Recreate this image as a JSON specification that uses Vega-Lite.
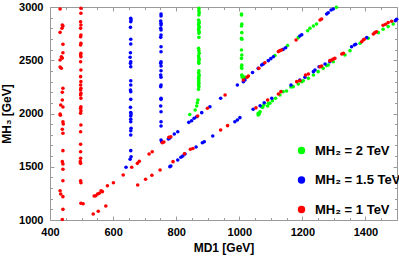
{
"$schema": "https://vega.github.io/schema/vega-lite/v6.json",
"autosize": "none",
"width": 347, "height": 213,
"padding": {"left": 50, "top": 7, "right": 2, "bottom": 37},
"background": "white",
"config": {"font": "Liberation Sans", "view": {"stroke": "#9a9a9a", "strokeWidth": 1},
  "axis": {"domain": false, "grid": false, "tickColor": "#9a9a9a", "labelFont": "Liberation Sans", "labelFontWeight": "bold", "labelFontSize": 11, "labelColor": "#000", "labelFlush": false, "format": "d", "titleFont": "Liberation Sans", "titleFontWeight": "bold", "titleFontSize": 12, "titleColor": "#000"}},
"datasets": {
"g": [
{"series":"2 TeV","MD1":872,"MH3":2988},{"series":"2 TeV","MD1":872,"MH3":2965},{"series":"2 TeV","MD1":873,"MH3":2946},{"series":"2 TeV","MD1":872,"MH3":2925},{"series":"2 TeV","MD1":871,"MH3":2878},{"series":"2 TeV","MD1":873,"MH3":2862},{"series":"2 TeV","MD1":872,"MH3":2847},{"series":"2 TeV","MD1":871,"MH3":2831},{"series":"2 TeV","MD1":873,"MH3":2815},{"series":"2 TeV","MD1":872,"MH3":2800},{"series":"2 TeV","MD1":871,"MH3":2784},{"series":"2 TeV","MD1":873,"MH3":2768},{"series":"2 TeV","MD1":872,"MH3":2753},{"series":"2 TeV","MD1":872,"MH3":2715},{"series":"2 TeV","MD1":871,"MH3":2612},{"series":"2 TeV","MD1":872,"MH3":2590},{"series":"2 TeV","MD1":873,"MH3":2565},{"series":"2 TeV","MD1":871,"MH3":2540},{"series":"2 TeV","MD1":872,"MH3":2518},{"series":"2 TeV","MD1":873,"MH3":2502},{"series":"2 TeV","MD1":871,"MH3":2486},{"series":"2 TeV","MD1":872,"MH3":2471},{"series":"2 TeV","MD1":872,"MH3":2402},{"series":"2 TeV","MD1":871,"MH3":2383},{"series":"2 TeV","MD1":873,"MH3":2362},{"series":"2 TeV","MD1":872,"MH3":2346},{"series":"2 TeV","MD1":871,"MH3":2330},{"series":"2 TeV","MD1":872,"MH3":2315},{"series":"2 TeV","MD1":871,"MH3":2299},{"series":"2 TeV","MD1":872,"MH3":2283},{"series":"2 TeV","MD1":871,"MH3":2268},{"series":"2 TeV","MD1":872,"MH3":2252},{"series":"2 TeV","MD1":871,"MH3":2227},{"series":"2 TeV","MD1":869,"MH3":2127},{"series":"2 TeV","MD1":867,"MH3":2101},{"series":"2 TeV","MD1":865,"MH3":2070},{"series":"2 TeV","MD1":860,"MH3":2033},{"series":"2 TeV","MD1":843,"MH3":1990},
{"series":"2 TeV","MD1":1007,"MH3":2934},{"series":"2 TeV","MD1":1007,"MH3":2925},{"series":"2 TeV","MD1":1008,"MH3":2840},{"series":"2 TeV","MD1":1007,"MH3":2822},{"series":"2 TeV","MD1":1008,"MH3":2759},{"series":"2 TeV","MD1":1007,"MH3":2707},{"series":"2 TeV","MD1":1008,"MH3":2697},{"series":"2 TeV","MD1":1007,"MH3":2596},{"series":"2 TeV","MD1":1008,"MH3":2549},{"series":"2 TeV","MD1":1007,"MH3":2518},{"series":"2 TeV","MD1":1008,"MH3":2455},{"series":"2 TeV","MD1":1007,"MH3":2439},{"series":"2 TeV","MD1":1008,"MH3":2424},{"series":"2 TeV","MD1":1008,"MH3":2362},{"series":"2 TeV","MD1":1009,"MH3":2352},{"series":"2 TeV","MD1":1010,"MH3":2340},{"series":"2 TeV","MD1":1014,"MH3":2330},
{"series":"2 TeV","MD1":1018,"MH3":2342},{"series":"2 TeV","MD1":1113,"MH3":2545},{"series":"2 TeV","MD1":1153,"MH3":2639},{"series":"2 TeV","MD1":1187,"MH3":2712},{"series":"2 TeV","MD1":1217,"MH3":2777},{"series":"2 TeV","MD1":1224,"MH3":2800},{"series":"2 TeV","MD1":1235,"MH3":2822},{"series":"2 TeV","MD1":1245,"MH3":2840},{"series":"2 TeV","MD1":1308,"MH3":2997},
{"series":"2 TeV","MD1":1060,"MH3":1986},{"series":"2 TeV","MD1":1063,"MH3":1995},{"series":"2 TeV","MD1":1066,"MH3":2017},{"series":"2 TeV","MD1":1060,"MH3":2002},{"series":"2 TeV","MD1":1071,"MH3":2064},{"series":"2 TeV","MD1":1074,"MH3":2058},{"series":"2 TeV","MD1":1078,"MH3":2080},{"series":"2 TeV","MD1":1090,"MH3":2070},{"series":"2 TeV","MD1":1092,"MH3":2096},{"series":"2 TeV","MD1":1097,"MH3":2096},{"series":"2 TeV","MD1":1105,"MH3":2120},{"series":"2 TeV","MD1":1115,"MH3":2143},{"series":"2 TeV","MD1":1129,"MH3":2174},{"series":"2 TeV","MD1":1139,"MH3":2205},{"series":"2 TeV","MD1":1150,"MH3":2211},{"series":"2 TeV","MD1":1164,"MH3":2250},{"series":"2 TeV","MD1":1171,"MH3":2252},{"series":"2 TeV","MD1":1187,"MH3":2277},{"series":"2 TeV","MD1":1198,"MH3":2299},{"series":"2 TeV","MD1":1203,"MH3":2308},{"series":"2 TeV","MD1":1219,"MH3":2330},{"series":"2 TeV","MD1":1235,"MH3":2362},{"series":"2 TeV","MD1":1250,"MH3":2393},{"series":"2 TeV","MD1":1266,"MH3":2424},{"series":"2 TeV","MD1":1277,"MH3":2450},{"series":"2 TeV","MD1":1282,"MH3":2455},{"series":"2 TeV","MD1":1298,"MH3":2486},{"series":"2 TeV","MD1":1335,"MH3":2549},{"series":"2 TeV","MD1":1351,"MH3":2590},{"series":"2 TeV","MD1":1383,"MH3":2659},{"series":"2 TeV","MD1":1409,"MH3":2707},{"series":"2 TeV","MD1":1441,"MH3":2759},{"series":"2 TeV","MD1":1456,"MH3":2791},{"series":"2 TeV","MD1":1472,"MH3":2816},{"series":"2 TeV","MD1":1488,"MH3":2840}
],
"b": [
{"series":"1.5 TeV","MD1":656,"MH3":2894},{"series":"1.5 TeV","MD1":657,"MH3":2878},{"series":"1.5 TeV","MD1":656,"MH3":2862},{"series":"1.5 TeV","MD1":655,"MH3":2809},{"series":"1.5 TeV","MD1":656,"MH3":2697},{"series":"1.5 TeV","MD1":656,"MH3":2653},{"series":"1.5 TeV","MD1":655,"MH3":2571},{"series":"1.5 TeV","MD1":654,"MH3":2528},{"series":"1.5 TeV","MD1":656,"MH3":2486},{"series":"1.5 TeV","MD1":655,"MH3":2471},{"series":"1.5 TeV","MD1":656,"MH3":2439},{"series":"1.5 TeV","MD1":656,"MH3":2308},{"series":"1.5 TeV","MD1":656,"MH3":2268},{"series":"1.5 TeV","MD1":655,"MH3":2221},{"series":"1.5 TeV","MD1":656,"MH3":2205},{"series":"1.5 TeV","MD1":656,"MH3":2133},{"series":"1.5 TeV","MD1":655,"MH3":2058},{"series":"1.5 TeV","MD1":656,"MH3":2010},{"series":"1.5 TeV","MD1":657,"MH3":1995},{"series":"1.5 TeV","MD1":656,"MH3":1977},{"series":"1.5 TeV","MD1":656,"MH3":1946},{"series":"1.5 TeV","MD1":656,"MH3":1923},{"series":"1.5 TeV","MD1":657,"MH3":1861},{"series":"1.5 TeV","MD1":656,"MH3":1838},{"series":"1.5 TeV","MD1":656,"MH3":1798},{"series":"1.5 TeV","MD1":656,"MH3":1651},{"series":"1.5 TeV","MD1":657,"MH3":1594},{"series":"1.5 TeV","MD1":654,"MH3":1570},{"series":"1.5 TeV","MD1":641,"MH3":1495},
{"series":"1.5 TeV","MD1":752,"MH3":2934},{"series":"1.5 TeV","MD1":752,"MH3":2915},{"series":"1.5 TeV","MD1":751,"MH3":2869},{"series":"1.5 TeV","MD1":752,"MH3":2847},{"series":"1.5 TeV","MD1":752,"MH3":2831},{"series":"1.5 TeV","MD1":751,"MH3":2800},{"series":"1.5 TeV","MD1":752,"MH3":2784},{"series":"1.5 TeV","MD1":752,"MH3":2737},{"series":"1.5 TeV","MD1":751,"MH3":2715},{"series":"1.5 TeV","MD1":752,"MH3":2627},{"series":"1.5 TeV","MD1":752,"MH3":2580},{"series":"1.5 TeV","MD1":752,"MH3":2486},{"series":"1.5 TeV","MD1":751,"MH3":2471},{"series":"1.5 TeV","MD1":752,"MH3":2446},{"series":"1.5 TeV","MD1":752,"MH3":2402},{"series":"1.5 TeV","MD1":751,"MH3":2362},{"series":"1.5 TeV","MD1":752,"MH3":2340},{"series":"1.5 TeV","MD1":752,"MH3":2268},{"series":"1.5 TeV","MD1":751,"MH3":2252},{"series":"1.5 TeV","MD1":752,"MH3":2143},{"series":"1.5 TeV","MD1":752,"MH3":2133},{"series":"1.5 TeV","MD1":751,"MH3":2070},{"series":"1.5 TeV","MD1":752,"MH3":2017},{"series":"1.5 TeV","MD1":752,"MH3":1923},{"series":"1.5 TeV","MD1":752,"MH3":1883},{"series":"1.5 TeV","MD1":752,"MH3":1751},{"series":"1.5 TeV","MD1":754,"MH3":1735},
{"series":"1.5 TeV","MD1":775,"MH3":1761},{"series":"1.5 TeV","MD1":780,"MH3":1770},{"series":"1.5 TeV","MD1":794,"MH3":1808},{"series":"1.5 TeV","MD1":805,"MH3":1829},{"series":"1.5 TeV","MD1":840,"MH3":1917},{"series":"1.5 TeV","MD1":849,"MH3":1932},{"series":"1.5 TeV","MD1":857,"MH3":1955},{"series":"1.5 TeV","MD1":865,"MH3":1970},{"series":"1.5 TeV","MD1":881,"MH3":2008},{"series":"1.5 TeV","MD1":907,"MH3":2064},{"series":"1.5 TeV","MD1":941,"MH3":2143},{"series":"1.5 TeV","MD1":994,"MH3":2268},{"series":"1.5 TeV","MD1":1013,"MH3":2299},{"series":"1.5 TeV","MD1":1018,"MH3":2315},{"series":"1.5 TeV","MD1":1042,"MH3":2385},{"series":"1.5 TeV","MD1":1060,"MH3":2424},{"series":"1.5 TeV","MD1":1071,"MH3":2455},{"series":"1.5 TeV","MD1":1076,"MH3":2465},{"series":"1.5 TeV","MD1":1092,"MH3":2496},{"series":"1.5 TeV","MD1":1100,"MH3":2515},{"series":"1.5 TeV","MD1":1108,"MH3":2533},{"series":"1.5 TeV","MD1":1139,"MH3":2602},{"series":"1.5 TeV","MD1":1147,"MH3":2618},{"series":"1.5 TeV","MD1":1192,"MH3":2728},{"series":"1.5 TeV","MD1":1198,"MH3":2740},{"series":"1.5 TeV","MD1":1277,"MH3":2934},{"series":"1.5 TeV","MD1":1282,"MH3":2946},{"series":"1.5 TeV","MD1":1291,"MH3":2972},{"series":"1.5 TeV","MD1":1298,"MH3":2981},
{"series":"1.5 TeV","MD1":780,"MH3":1501},{"series":"1.5 TeV","MD1":783,"MH3":1507},{"series":"1.5 TeV","MD1":805,"MH3":1563},{"series":"1.5 TeV","MD1":815,"MH3":1589},{"series":"1.5 TeV","MD1":821,"MH3":1601},{"series":"1.5 TeV","MD1":828,"MH3":1620},{"series":"1.5 TeV","MD1":863,"MH3":1685},{"series":"1.5 TeV","MD1":883,"MH3":1726},{"series":"1.5 TeV","MD1":889,"MH3":1735},{"series":"1.5 TeV","MD1":916,"MH3":1789},{"series":"1.5 TeV","MD1":986,"MH3":1923},{"series":"1.5 TeV","MD1":994,"MH3":1939},{"series":"1.5 TeV","MD1":1002,"MH3":1961},{"series":"1.5 TeV","MD1":1044,"MH3":2040},{"series":"1.5 TeV","MD1":1066,"MH3":2073},{"series":"1.5 TeV","MD1":1079,"MH3":2101},{"series":"1.5 TeV","MD1":1103,"MH3":2143},{"series":"1.5 TeV","MD1":1164,"MH3":2268},{"series":"1.5 TeV","MD1":1192,"MH3":2315},{"series":"1.5 TeV","MD1":1208,"MH3":2340},{"series":"1.5 TeV","MD1":1235,"MH3":2393},{"series":"1.5 TeV","MD1":1240,"MH3":2408},{"series":"1.5 TeV","MD1":1253,"MH3":2439},{"series":"1.5 TeV","MD1":1272,"MH3":2465},{"series":"1.5 TeV","MD1":1287,"MH3":2486},{"series":"1.5 TeV","MD1":1356,"MH3":2627},{"series":"1.5 TeV","MD1":1365,"MH3":2643},{"series":"1.5 TeV","MD1":1369,"MH3":2650},{"series":"1.5 TeV","MD1":1404,"MH3":2712},{"series":"1.5 TeV","MD1":1495,"MH3":2872},{"series":"1.5 TeV","MD1":1499,"MH3":2885}
],
"r": [
{"series":"1 TeV","MD1":432,"MH3":2981},{"series":"1 TeV","MD1":439,"MH3":2831},{"series":"1 TeV","MD1":441,"MH3":2822},{"series":"1 TeV","MD1":438,"MH3":2800},{"series":"1 TeV","MD1":432,"MH3":2762},{"series":"1 TeV","MD1":441,"MH3":2650},{"series":"1 TeV","MD1":441,"MH3":2571},{"series":"1 TeV","MD1":436,"MH3":2533},{"series":"1 TeV","MD1":439,"MH3":2520},{"series":"1 TeV","MD1":432,"MH3":2502},{"series":"1 TeV","MD1":432,"MH3":2437},{"series":"1 TeV","MD1":436,"MH3":2425},{"series":"1 TeV","MD1":441,"MH3":2237},{"series":"1 TeV","MD1":439,"MH3":2199},{"series":"1 TeV","MD1":439,"MH3":2127},{"series":"1 TeV","MD1":434,"MH3":2080},{"series":"1 TeV","MD1":441,"MH3":2061},{"series":"1 TeV","MD1":432,"MH3":1995},{"series":"1 TeV","MD1":433,"MH3":1984},{"series":"1 TeV","MD1":441,"MH3":1923},{"series":"1 TeV","MD1":442,"MH3":1901},{"series":"1 TeV","MD1":439,"MH3":1852},{"series":"1 TeV","MD1":441,"MH3":1814},{"series":"1 TeV","MD1":441,"MH3":1651},{"series":"1 TeV","MD1":439,"MH3":1548},{"series":"1 TeV","MD1":441,"MH3":1526},{"series":"1 TeV","MD1":441,"MH3":1476},{"series":"1 TeV","MD1":441,"MH3":1369},{"series":"1 TeV","MD1":432,"MH3":1275},{"series":"1 TeV","MD1":434,"MH3":1244},{"series":"1 TeV","MD1":441,"MH3":1219},{"series":"1 TeV","MD1":441,"MH3":1100},{"series":"1 TeV","MD1":439,"MH3":1005},
{"series":"1 TeV","MD1":498,"MH3":2988},{"series":"1 TeV","MD1":498,"MH3":2941},{"series":"1 TeV","MD1":497,"MH3":2862},{"series":"1 TeV","MD1":498,"MH3":2831},{"series":"1 TeV","MD1":497,"MH3":2800},{"series":"1 TeV","MD1":498,"MH3":2737},{"series":"1 TeV","MD1":497,"MH3":2721},{"series":"1 TeV","MD1":498,"MH3":2659},{"series":"1 TeV","MD1":497,"MH3":2643},{"series":"1 TeV","MD1":498,"MH3":2565},{"series":"1 TeV","MD1":497,"MH3":2549},{"series":"1 TeV","MD1":498,"MH3":2533},{"series":"1 TeV","MD1":497,"MH3":2486},{"series":"1 TeV","MD1":498,"MH3":2408},{"series":"1 TeV","MD1":497,"MH3":2346},{"series":"1 TeV","MD1":498,"MH3":2299},{"series":"1 TeV","MD1":497,"MH3":2268},{"series":"1 TeV","MD1":498,"MH3":2237},{"series":"1 TeV","MD1":497,"MH3":2221},{"series":"1 TeV","MD1":498,"MH3":2190},{"series":"1 TeV","MD1":497,"MH3":2174},{"series":"1 TeV","MD1":498,"MH3":2143},{"series":"1 TeV","MD1":498,"MH3":2064},{"series":"1 TeV","MD1":497,"MH3":2049},{"series":"1 TeV","MD1":498,"MH3":2025},{"series":"1 TeV","MD1":497,"MH3":2002},{"series":"1 TeV","MD1":498,"MH3":1892},{"series":"1 TeV","MD1":497,"MH3":1829},{"series":"1 TeV","MD1":497,"MH3":1711},{"series":"1 TeV","MD1":497,"MH3":1641},{"series":"1 TeV","MD1":497,"MH3":1579},{"series":"1 TeV","MD1":496,"MH3":1548},{"series":"1 TeV","MD1":497,"MH3":1532},{"series":"1 TeV","MD1":497,"MH3":1369},{"series":"1 TeV","MD1":498,"MH3":1350},{"series":"1 TeV","MD1":498,"MH3":1157},{"series":"1 TeV","MD1":505,"MH3":1152},
{"series":"1 TeV","MD1":540,"MH3":1225},{"series":"1 TeV","MD1":545,"MH3":1228},{"series":"1 TeV","MD1":551,"MH3":1244},{"series":"1 TeV","MD1":556,"MH3":1251},{"series":"1 TeV","MD1":562,"MH3":1275},{"series":"1 TeV","MD1":566,"MH3":1266},{"series":"1 TeV","MD1":582,"MH3":1322},{"series":"1 TeV","MD1":601,"MH3":1350},{"series":"1 TeV","MD1":632,"MH3":1423},{"series":"1 TeV","MD1":659,"MH3":1495},{"series":"1 TeV","MD1":677,"MH3":1532},{"series":"1 TeV","MD1":683,"MH3":1551},{"series":"1 TeV","MD1":714,"MH3":1620},{"series":"1 TeV","MD1":724,"MH3":1641},{"series":"1 TeV","MD1":756,"MH3":1726},{"series":"1 TeV","MD1":761,"MH3":1732},{"series":"1 TeV","MD1":777,"MH3":1777},{"series":"1 TeV","MD1":783,"MH3":1782},{"series":"1 TeV","MD1":868,"MH3":1977},{"series":"1 TeV","MD1":899,"MH3":2049},{"series":"1 TeV","MD1":955,"MH3":2174},{"series":"1 TeV","MD1":1013,"MH3":2315},{"series":"1 TeV","MD1":1025,"MH3":2340},{"series":"1 TeV","MD1":1029,"MH3":2352},{"series":"1 TeV","MD1":1062,"MH3":2424},{"series":"1 TeV","MD1":1081,"MH3":2477},{"series":"1 TeV","MD1":1124,"MH3":2581},{"series":"1 TeV","MD1":1129,"MH3":2590},{"series":"1 TeV","MD1":1134,"MH3":2596},{"series":"1 TeV","MD1":1180,"MH3":2690},{"series":"1 TeV","MD1":1256,"MH3":2878},{"series":"1 TeV","MD1":1261,"MH3":2887},
{"series":"1 TeV","MD1":537,"MH3":1056},{"series":"1 TeV","MD1":553,"MH3":1082},{"series":"1 TeV","MD1":577,"MH3":1131},{"series":"1 TeV","MD1":678,"MH3":1329},{"series":"1 TeV","MD1":703,"MH3":1382},{"series":"1 TeV","MD1":723,"MH3":1420},{"series":"1 TeV","MD1":749,"MH3":1469},{"series":"1 TeV","MD1":790,"MH3":1548},{"series":"1 TeV","MD1":826,"MH3":1622},{"series":"1 TeV","MD1":845,"MH3":1664},{"series":"1 TeV","MD1":853,"MH3":1672},{"series":"1 TeV","MD1":941,"MH3":1845},{"series":"1 TeV","MD1":963,"MH3":1886},{"series":"1 TeV","MD1":1053,"MH3":2053},{"series":"1 TeV","MD1":1090,"MH3":2127},{"series":"1 TeV","MD1":1124,"MH3":2183},{"series":"1 TeV","MD1":1132,"MH3":2205},{"series":"1 TeV","MD1":1182,"MH3":2299},{"series":"1 TeV","MD1":1192,"MH3":2308},{"series":"1 TeV","MD1":1210,"MH3":2362},{"series":"1 TeV","MD1":1219,"MH3":2371},{"series":"1 TeV","MD1":1256,"MH3":2439},{"series":"1 TeV","MD1":1261,"MH3":2446},{"series":"1 TeV","MD1":1287,"MH3":2496},{"series":"1 TeV","MD1":1293,"MH3":2502},{"series":"1 TeV","MD1":1298,"MH3":2512},{"series":"1 TeV","MD1":1303,"MH3":2518},{"series":"1 TeV","MD1":1325,"MH3":2559},{"series":"1 TeV","MD1":1330,"MH3":2565},{"series":"1 TeV","MD1":1388,"MH3":2674},{"series":"1 TeV","MD1":1393,"MH3":2690},{"series":"1 TeV","MD1":1396,"MH3":2697},{"series":"1 TeV","MD1":1425,"MH3":2746},{"series":"1 TeV","MD1":1430,"MH3":2759},{"series":"1 TeV","MD1":1435,"MH3":2768},{"series":"1 TeV","MD1":1456,"MH3":2828},{"series":"1 TeV","MD1":1464,"MH3":2838},{"series":"1 TeV","MD1":1472,"MH3":2854},{"series":"1 TeV","MD1":1483,"MH3":2866}
]
},
"layer": [
{"data": {"name": "g"}, "mark": {"type": "circle", "size": 13, "opacity": 1},
 "encoding": {
  "x": {"field": "MD1", "type": "quantitative", "scale": {"domain": [400, 1500], "nice": false, "zero": false},
        "axis": {"orient": "bottom", "values": [400, 600, 800, 1000, 1200, 1400], "tickSize": -4, "labelPadding": 10, "title": "MD1 [GeV]", "titlePadding": 5}},
  "y": {"field": "MH3", "type": "quantitative", "scale": {"domain": [1000, 3000], "nice": false, "zero": false},
        "axis": {"orient": "left", "values": [1000, 1500, 2000, 2500, 3000], "tickSize": -4, "labelPadding": 11, "title": "MH₃ [GeV]", "titlePadding": 5}},
  "color": {"field": "series", "type": "nominal",
        "scale": {"domain": ["2 TeV", "1.5 TeV", "1 TeV"], "range": ["#00ff00", "#0000ff", "#ff0000"]},
        "legend": {"orient": "none", "legendX": 245, "legendY": 137, "title": null, "labelExpr": "'MH₂ = ' + datum.label", "symbolType": "circle", "symbolSize": 55, "symbolOpacity": 1, "labelFontSize": 13, "labelFontWeight": "bold", "labelFont": "Liberation Sans", "labelColor": "#000", "rowPadding": 15.5, "padding": 0, "labelOffset": 7}}
 }},
{"data": {"name": "b"}, "mark": {"type": "circle", "size": 13, "opacity": 1},
 "encoding": {
  "x": {"field": "MD1", "type": "quantitative", "scale": {"domain": [400, 1500], "nice": false, "zero": false},
        "axis": {"orient": "bottom", "values": [450, 500, 550, 650, 700, 750, 850, 900, 950, 1050, 1100, 1150, 1250, 1300, 1350, 1450], "tickSize": -2.5, "labels": false, "title": null}},
  "y": {"field": "MH3", "type": "quantitative", "scale": {"domain": [1000, 3000], "nice": false, "zero": false},
        "axis": {"orient": "left", "values": [1100, 1200, 1300, 1400, 1600, 1700, 1800, 1900, 2100, 2200, 2300, 2400, 2600, 2700, 2800, 2900], "tickSize": -2.5, "labels": false, "title": null}},
  "color": {"field": "series", "type": "nominal", "scale": {"domain": ["2 TeV", "1.5 TeV", "1 TeV"], "range": ["#00ff00", "#0000ff", "#ff0000"]}}
 }},
{"data": {"name": "r"}, "mark": {"type": "circle", "size": 13, "opacity": 1},
 "encoding": {
  "x": {"field": "MD1", "type": "quantitative", "scale": {"domain": [400, 1500], "nice": false, "zero": false},
        "axis": {"orient": "top", "values": [400, 600, 800, 1000, 1200, 1400], "tickSize": -4, "labels": false, "title": null}},
  "y": {"field": "MH3", "type": "quantitative", "scale": {"domain": [1000, 3000], "nice": false, "zero": false},
        "axis": {"orient": "right", "values": [1000, 1500, 2000, 2500, 3000], "tickSize": -4, "labels": false, "title": null}},
  "color": {"field": "series", "type": "nominal", "scale": {"domain": ["2 TeV", "1.5 TeV", "1 TeV"], "range": ["#00ff00", "#0000ff", "#ff0000"]}}
 }},
{"data": {"name": "r"}, "mark": {"type": "circle", "size": 13, "opacity": 0},
 "encoding": {
  "x": {"field": "MD1", "type": "quantitative", "scale": {"domain": [400, 1500], "nice": false, "zero": false},
        "axis": {"orient": "top", "values": [450, 500, 550, 650, 700, 750, 850, 900, 950, 1050, 1100, 1150, 1250, 1300, 1350, 1450], "tickSize": -2.5, "labels": false, "title": null}},
  "y": {"field": "MH3", "type": "quantitative", "scale": {"domain": [1000, 3000], "nice": false, "zero": false},
        "axis": {"orient": "right", "values": [1100, 1200, 1300, 1400, 1600, 1700, 1800, 1900, 2100, 2200, 2300, 2400, 2600, 2700, 2800, 2900], "tickSize": -2.5, "labels": false, "title": null}}
 }}
],
"resolve": {"axis": {"x": "independent", "y": "independent"}}
}
